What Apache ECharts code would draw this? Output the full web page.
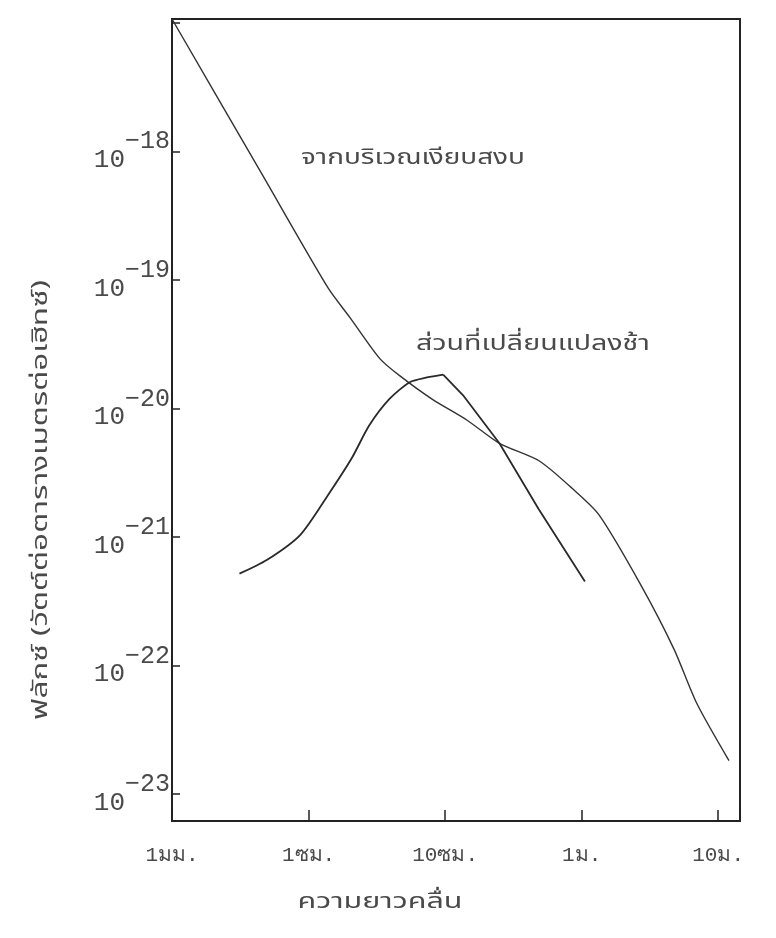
<!DOCTYPE html>
<html>
<head>
<meta charset="utf-8">
<script src="https://cdn.jsdelivr.net/npm/echarts@6/dist/echarts.min.js"></script>
<style>
  html, body { margin: 0; background: #fff; }
  #chart { width: 776px; height: 938px; }
</style>
</head>
<body>
<div id="chart"></div>
<script>
// wavelength in mm; flux in units of 10^-23 W m^-2 Hz^-1
// (the log axis in echarts 6 chokes on a fixed min around 1e-24, hence the unit)
var fluxUnitExp = -23;

var quietX = [1, 4.56, 13.9, 20.3, 33.4, 46.7, 81.3, 144, 250, 490, 851, 1337, 2723, 4764, 6950, 12000];
var quietFlux = [1.07e6, 6.64e4, 8650, 5020, 2430, 1790, 1170, 813, 535, 390, 239, 149, 42.0, 13.3, 5.11, 1.82];

// slowly varying part: smooth rise, then a sharp turn at the peak
var slowRiseX = [3.12, 4.94, 8.71, 13.9, 20.7, 27.8, 39.3, 55.2, 73.8, 96.8];
var slowRiseFlux = [51.8, 66.1, 104, 212, 409, 736, 1190, 1600, 1740, 1830];
var slowFallX = [96.8, 135, 250, 484, 1057];
var slowFallFlux = [1830, 1270, 535, 165, 45.0];

var xTickValues = [1, 10, 100, 1000, 10000];
var xTickNames = ['1มม.', '1ซม.', '10ซม.', '1ม.', '10ม.'];
var yTickExponents = [-23, -22, -21, -20, -19, -18];

var monoFont = '"Liberation Mono", "DejaVu Sans Mono", monospace';
var thaiFont = '"Noto Sans Thai", "Tlwg Typo", "Garuda", "Loma", "DejaVu Sans", sans-serif';

function zip(xs, ys) {
  return xs.map(function (x, i) { return [x, ys[i]]; });
}

// typewriter text is wide, so stretch the thai labels sideways
function wideText(text, x, y, size, stretch, rotation) {
  return {
    type: 'text', x: x, y: y, rotation: rotation || 0, scaleX: stretch,
    style: { text: text, font: size + 'px ' + thaiFont, fill: '#4a4a4a', align: 'center', verticalAlign: 'middle' }
  };
}

var myChart = echarts.init(document.getElementById('chart'));

var option = {
  backgroundColor: '#fff',
  animation: false,
  grid: {
    left: 172, right: 36, top: 19, bottom: 117,
    outerBoundsMode: 'none',
    show: true, borderColor: '#222', borderWidth: 2
  },
  xAxis: {
    type: 'log',
    logBase: 10,
    min: 1,
    max: 14450,
    axisLine: { show: true, lineStyle: { color: '#222', width: 2 } },
    axisTick: { show: true, inside: true, length: 11, lineStyle: { color: '#222', width: 1.5 } },
    splitLine: { show: false },
    axisLabel: {
      margin: 24,
      fontFamily: monoFont,
      fontSize: 21,
      color: '#4a4a4a',
      formatter: function (v) {
        for (var i = 0; i < xTickValues.length; i++) {
          if (Math.abs(v - xTickValues[i]) < 1e-6 * xTickValues[i]) return xTickNames[i];
        }
        return '';
      }
    }
  },
  yAxis: {
    type: 'log',
    logBase: 10,
    min: 0.617,
    max: 1.07e6,
    axisLine: { show: true, lineStyle: { color: '#222', width: 2 } },
    axisTick: { show: true, inside: true, length: 8, lineStyle: { color: '#222', width: 1.5 } },
    splitLine: { show: false },
    axisLabel: {
      margin: 2,
      color: '#4a4a4a',
      formatter: function (v) {
        var e = Math.log10(v) + fluxUnitExp;
        var r = Math.round(e);
        if (Math.abs(e - r) > 0.01 || yTickExponents.indexOf(r) < 0) return '';
        return '{b|10}{s|\u2212' + (-r) + '}';
      },
      rich: {
        b: { fontFamily: monoFont, fontSize: 26, color: '#4a4a4a', lineHeight: 44, verticalAlign: 'bottom' },
        s: { fontFamily: monoFont, fontSize: 25, color: '#4a4a4a', lineHeight: 44, verticalAlign: 'top' }
      }
    }
  },
  graphic: [
    wideText('ฟลักซ์ (วัตต์ต่อตารางเมตรต่อเฮิทซ์)', 43, 500, 21, 1.5, Math.PI / 2),
    wideText('ความยาวคลื่น', 380, 904, 21, 1.45),
    wideText('จากบริเวณเงียบสงบ', 413, 160, 21, 1.33),
    wideText('ส่วนที่เปลี่ยนแปลงช้า', 533, 346, 22, 1.3)
  ],
  series: [
    {
      name: 'quiet',
      type: 'line',
      data: zip(quietX, quietFlux),
      showSymbol: false,
      smooth: 0.25,
      lineStyle: { color: '#333', width: 1.4 }
    },
    {
      name: 'slow rise',
      type: 'line',
      data: zip(slowRiseX, slowRiseFlux),
      showSymbol: false,
      smooth: 0.25,
      lineStyle: { color: '#2a2a2a', width: 1.8 }
    },
    {
      name: 'slow fall',
      type: 'line',
      data: zip(slowFallX, slowFallFlux),
      showSymbol: false,
      smooth: false,
      lineStyle: { color: '#2a2a2a', width: 1.8 }
    }
  ]
};

myChart.setOption(option);
</script>
</body>
</html>
